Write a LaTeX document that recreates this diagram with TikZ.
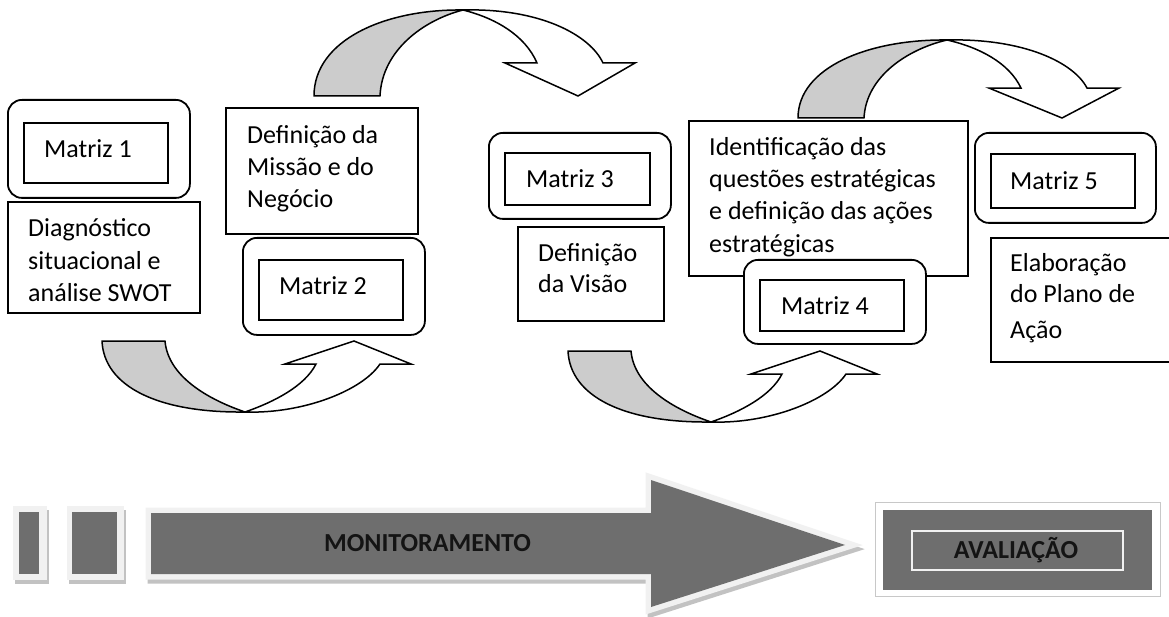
\documentclass[tikz,border=0pt]{standalone}
\usepackage{fontspec}
\setmainfont{Carlito}
\definecolor{bandgrey}{HTML}{CCCCCC}
\definecolor{dk}{HTML}{6E6E6E}
\definecolor{halo}{HTML}{F1F1F1}
\definecolor{shad}{HTML}{C2C2C2}
\definecolor{frameline}{HTML}{C8C8C8}
\definecolor{bartext}{HTML}{141414}
\newcommand\ArrowTopShape{%
  \filldraw[whiteband] (149,-86) .. controls (226,-88) and (276,-61) .. (289,-33)
     -- (321,-33) -- (264,0) -- (191,-33) -- (223,-33)
     .. controls (211,-61) and (181,-78) .. (149,-86) -- cycle;
  \filldraw[greyband] (0,0) .. controls (0,-56) and (71,-87) .. (149,-86)
     .. controls (110,-76) and (68,-46) .. (66,0) -- cycle;
}
\newcommand\ArrowBotShape{%
  \filldraw[whiteband] (143,71) .. controls (200,73) and (260,50) .. (278,23)
     -- (309,23) -- (252,0) -- (183,23) -- (214,23)
     .. controls (203,45) and (172,61) .. (143,71) -- cycle;
  \filldraw[greyband] (0,0) .. controls (2,45) and (55,72) .. (143,71)
     .. controls (105,58) and (66,35) .. (63,0) -- cycle;
}
\begin{document}
\begin{tikzpicture}[x=1pt,y=-1pt,
  box/.style={draw=black, fill=white, line width=1.8pt, inner sep=0pt, anchor=north west},
  obox/.style={box, rounded corners=14pt},
  lbl/.style={anchor=base west, inner sep=0pt, font=\fontsize{26}{32}\selectfont},
  greyband/.style={fill=bandgrey, draw=black, line width=1.5pt, line join=round},
  whiteband/.style={fill=white, draw=black, line width=1.5pt, line join=miter},
  bartxt/.style={anchor=base, inner sep=0pt, text=bartext, font=\bfseries\fontsize{26}{30}\selectfont},
]
\useasboundingbox (0,0) rectangle (1169,617);
\clip (0,0) rectangle (1169,617);
\fill[white] (0,0) rectangle (1169,617);

% ---- Matriz 1 / Diagnostico
\node[obox, minimum width=182pt, minimum height=98pt] (m1o) at (7,99) {};
\node[box, minimum width=144pt, minimum height=60pt] (m1i) at (23,122) {};
\node[lbl] (m1t) at (44,158) {Matriz 1};
\node[box, minimum width=192pt, minimum height=111pt] (diag) at (7,201) {};
\node[lbl] (diag1) at (28,237) {Diagnóstico};
\node[lbl] (diag2) at (28,270) {situacional e};
\node[lbl] (diag3) at (28,302) {análise SWOT};

% ---- Missao / Matriz 2
\node[box, minimum width=192pt, minimum height=126pt] (miss) at (225,107) {};
\node[lbl] (miss1) at (247,144) {Definição da};
\node[lbl] (miss2) at (247,176) {Missão e do};
\node[lbl] (miss3) at (247,208) {Negócio};
\node[obox, minimum width=182pt, minimum height=97pt] (m2o) at (242,237) {};
\node[box, minimum width=144pt, minimum height=60pt] (m2i) at (258,259) {};
\node[lbl] (m2t) at (279,295) {Matriz 2};

% ---- Matriz 3 / Visao
\node[obox, minimum width=182pt, minimum height=86pt] (m3o) at (488,132) {};
\node[box, minimum width=145pt, minimum height=52pt] (m3i) at (504,152) {};
\node[lbl] (m3t) at (526,188) {Matriz 3};
\node[box, minimum width=146pt, minimum height=94pt] (vis) at (517,226) {};
\node[lbl] (vis1) at (538,262) {Definição};
\node[lbl] (vis2) at (538,293) {da Visão};

% ---- Identificacao / Matriz 4
\node[box, minimum width=279pt, minimum height=155pt] (ident) at (688,120) {};
\node[lbl] (id1) at (709,156) {Identificação das};
\node[lbl] (id2) at (709,188) {questões estratégicas};
\node[lbl] (id3) at (709,220) {e definição das ações};
\node[lbl] (id4) at (709,253) {estratégicas};
\node[obox, minimum width=182pt, minimum height=84pt] (m4o) at (743,259) {};
\node[box, minimum width=144pt, minimum height=51pt] (m4i) at (759,279) {};
\node[lbl] (m4t) at (781,315) {Matriz 4};

% ---- Matriz 5 / Elaboracao
\node[obox, minimum width=181pt, minimum height=90pt] (m5o) at (974,132) {};
\node[box, minimum width=144pt, minimum height=54pt] (m5i) at (990,153) {};
\node[lbl] (m5t) at (1010,190) {Matriz 5};
\node[box, minimum width=180pt, minimum height=124pt] (elab) at (990,237) {};
\node[lbl] (el1) at (1010,272) {Elaboração};
\node[lbl] (el2) at (1010,303) {do Plano de};
\node[lbl] (el3) at (1010,338) {Ação};

% ---- curved arrows
\begin{scope}[shift={(314,96)}]\ArrowTopShape\end{scope}
\begin{scope}[shift={(798,118)}, yscale=0.907]\ArrowTopShape\end{scope}
\begin{scope}[shift={(102,341)}]\ArrowBotShape\end{scope}
\begin{scope}[shift={(568,351)}]\ArrowBotShape\end{scope}

% ---- bottom row: small bars
\fill[shad] (15,510) rectangle (49,584);
\fill[halo] (13,506) rectangle (47,580);
\fill[dk] (19,512) rectangle (39,574);
\fill[shad] (69,510) rectangle (126,584);
\fill[halo] (67,506) rectangle (124,580);
\fill[dk] (72,512) rectangle (117,574);

% ---- big arrow
\draw[shad, line width=11pt, line join=miter, shift={(2,4)}]
  (151,513) -- (651,513) -- (651,480) -- (845,545) -- (651,607) -- (651,574) -- (151,574) -- cycle;
\filldraw[draw=halo, fill=halo, line width=11pt, line join=miter]
  (151,513) -- (651,513) -- (651,480) -- (845,545) -- (651,607) -- (651,574) -- (151,574) -- cycle;
\fill[dk]
  (151,513) -- (651,513) -- (651,480) -- (845,545) -- (651,607) -- (651,574) -- (151,574) -- cycle;
\node[bartxt] (mon) at (427.5,551) {MONITORAMENTO};

% ---- avaliacao box
\node[draw=frameline, fill=white, line width=1.2pt, inner sep=0pt, anchor=north west,
      minimum width=285pt, minimum height=94pt] (avf) at (875,502) {};
\fill[dk] (883,510) rectangle (1152,590);
\node[draw=halo, line width=1.5pt, inner sep=0pt, anchor=north west,
      minimum width=211pt, minimum height=39pt] (avi) at (911,530) {};
\node[bartxt] (avt) at (1016,558) {AVALIAÇÃO};
\end{tikzpicture}
\end{document}
